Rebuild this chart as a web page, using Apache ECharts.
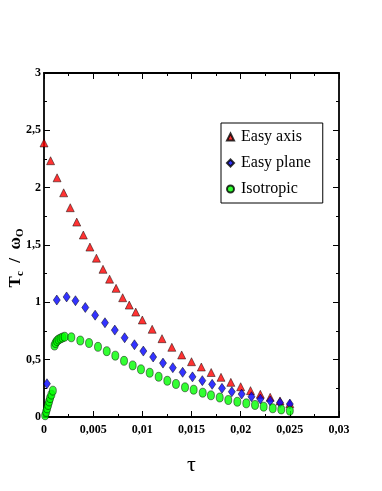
<!DOCTYPE html>
<html>
<head>
<meta charset="utf-8">
<script src="https://cdn.jsdelivr.net/npm/echarts@6/dist/echarts.min.js"></script>
<style>
  html, body { margin: 0; padding: 0; background: #fff; }
  #main { width: 382px; height: 491px; }
</style>
</head>
<body>
<div id="main"></div>
<script>
  // values (tau, Tc / omega0)
  var easyAxisX = [0, 0.00067, 0.00133, 0.002, 0.00267, 0.00333, 0.004, 0.00467, 0.00533, 0.006,
    0.00667, 0.00733, 0.008, 0.00867, 0.00933, 0.01, 0.011, 0.012, 0.013, 0.014, 0.015, 0.016,
    0.017, 0.018, 0.019, 0.02, 0.021, 0.022, 0.023, 0.024, 0.025];
  var easyAxisY = [2.39, 2.235, 2.086, 1.955, 1.825, 1.70, 1.587, 1.482, 1.385, 1.288,
    1.202, 1.122, 1.04, 0.976, 0.915, 0.846, 0.765, 0.683, 0.608, 0.541, 0.482, 0.436,
    0.388, 0.346, 0.302, 0.264, 0.23, 0.198, 0.172, 0.14, 0.116];

  var easyPlaneX = [0.0003, 0.0013, 0.0023, 0.0032, 0.0042, 0.0052, 0.0062, 0.0072, 0.0082, 0.0092,
    0.0101, 0.0111, 0.0121, 0.0131, 0.0141, 0.0151, 0.0161, 0.0171, 0.0181, 0.0191,
    0.0201, 0.0211, 0.022, 0.023, 0.024, 0.025];
  var easyPlaneY = [0.29, 1.02, 1.047, 1.014, 0.955, 0.888, 0.822, 0.758, 0.691, 0.63,
    0.575, 0.523, 0.47, 0.43, 0.39, 0.35, 0.317, 0.285, 0.25, 0.22,
    0.2, 0.177, 0.157, 0.14, 0.125, 0.113];

  var isotropicX = [0.00012, 0.00022, 0.00032, 0.00042, 0.00052, 0.00062, 0.00075, 0.0009,
    0.00107, 0.00117, 0.00132, 0.00148, 0.00168, 0.00188, 0.0021,
    0.00278, 0.00369, 0.00458, 0.00549, 0.00638, 0.00725, 0.00814, 0.00902, 0.00986, 0.01075,
    0.01166, 0.01254, 0.01342, 0.01434, 0.01522, 0.01614, 0.01698, 0.01787, 0.01874, 0.01966,
    0.02057, 0.02146, 0.02234, 0.02326, 0.02413, 0.025];
  var isotropicY = [0.015, 0.045, 0.075, 0.105, 0.135, 0.165, 0.195, 0.23,
    0.623, 0.645, 0.663, 0.676, 0.685, 0.693, 0.70,
    0.695, 0.667, 0.645, 0.612, 0.574, 0.535, 0.49, 0.45, 0.416, 0.386,
    0.351, 0.316, 0.288, 0.259, 0.238, 0.212, 0.189, 0.17, 0.148, 0.133,
    0.119, 0.105, 0.09, 0.076, 0.066, 0.055];

  var seriesNames = ['Easy axis', 'Easy plane', 'Isotropic'];

  function zip(xs, ys) {
    return xs.map(function (x, i) { return [x, ys[i]]; });
  }

  // decimal comma like the original
  function fmt(v) {
    return String(+v.toFixed(4)).replace('.', ',');
  }

  var serif = 'Liberation Serif';
  var lineStyle = { color: '#000', width: 1.8 };
  var tickStyle = { color: '#000', width: 1 };

  function xAx(pos, show) {
    return {
      type: 'value', position: pos, min: 0, max: 0.03, interval: 0.005,
      axisLine: { show: true, onZero: false, lineStyle: lineStyle },
      axisTick: { show: true, inside: true, length: 6, lineStyle: tickStyle },
      minorTick: { show: true, splitNumber: 2, length: 3, lineStyle: tickStyle },
      splitLine: { show: false },
      axisLabel: { show: show, formatter: fmt, margin: 7, color: '#000',
        fontFamily: serif, fontWeight: 'bold', fontSize: 12 }
    };
  }

  function yAx(pos, show) {
    return {
      type: 'value', position: pos, min: 0, max: 3, interval: 0.5,
      axisLine: { show: true, onZero: false, lineStyle: lineStyle },
      axisTick: { show: true, inside: true, length: 6, lineStyle: tickStyle },
      minorTick: { show: true, splitNumber: 2, length: 3, lineStyle: tickStyle },
      splitLine: { show: false },
      axisLabel: { show: show, formatter: fmt, margin: 3, color: '#000',
        fontFamily: serif, fontWeight: 'bold', fontSize: 12 }
    };
  }

  var xBottom = xAx('bottom', true);
  xBottom.name = 'τ';
  xBottom.nameLocation = 'middle';
  xBottom.nameGap = 37;
  xBottom.nameMoveOverlap = false;
  xBottom.nameTextStyle = { fontFamily: serif, fontSize: 22, color: '#000' };

  var yLeft = yAx('left', true);
  // the spacer at the end pushes the title a bit below the middle, as in the original
  yLeft.name = '{a|T}{b|c}{a|  /  ω}{b|O}{s| }';
  yLeft.nameLocation = 'middle';
  yLeft.nameGap = 18;
  yLeft.nameMoveOverlap = false;
  yLeft.nameTextStyle = {
    color: '#000',
    rich: {
      a: { fontFamily: serif, fontWeight: 'bold', fontSize: 17, lineHeight: 20, color: '#000' },
      b: { fontFamily: serif, fontWeight: 'bold', fontSize: 11, lineHeight: 12, verticalAlign: 'bottom', color: '#000' },
      s: { fontSize: 12, lineHeight: 12, width: 26 }
    }
  };

  var myChart = echarts.init(document.getElementById('main'));
  var option = {
    animation: false,
    backgroundColor: '#fff',
    grid: { left: 44, right: 43, top: 73, bottom: 74, outerBoundsMode: 'none', containLabel: false },
    legend: {
      data: seriesNames,
      orient: 'vertical',
      left: 221,
      top: 123,
      padding: [6, 12, 6, 5],
      itemGap: 10,
      itemWidth: 7,
      itemHeight: 7,
      borderColor: '#000',
      borderWidth: 1,
      backgroundColor: '#fff',
      textStyle: { fontFamily: serif, fontSize: 16, color: '#000', padding: [0, 0, 0, 2] }
    },
    xAxis: [xBottom, xAx('top', false)],
    yAxis: [yLeft, yAx('right', false)],
    series: [
      {
        name: seriesNames[0], type: 'scatter', symbol: 'triangle', symbolSize: [8, 8],
        itemStyle: { color: '#ff0000', borderColor: '#000', borderWidth: 0.6 },
        data: zip(easyAxisX, easyAxisY)
      },
      {
        name: seriesNames[1], type: 'scatter', symbol: 'diamond', symbolSize: [7, 10],
        itemStyle: { color: '#0000ff', borderColor: '#000', borderWidth: 0.6 },
        data: zip(easyPlaneX, easyPlaneY)
      },
      {
        name: seriesNames[2], type: 'scatter', symbol: 'circle', symbolSize: [7, 9],
        itemStyle: { color: '#00ff00', borderColor: '#000', borderWidth: 0.6 },
        data: zip(isotropicX, isotropicY)
      }
    ]
  };
  myChart.setOption(option);
</script>
</body>
</html>
